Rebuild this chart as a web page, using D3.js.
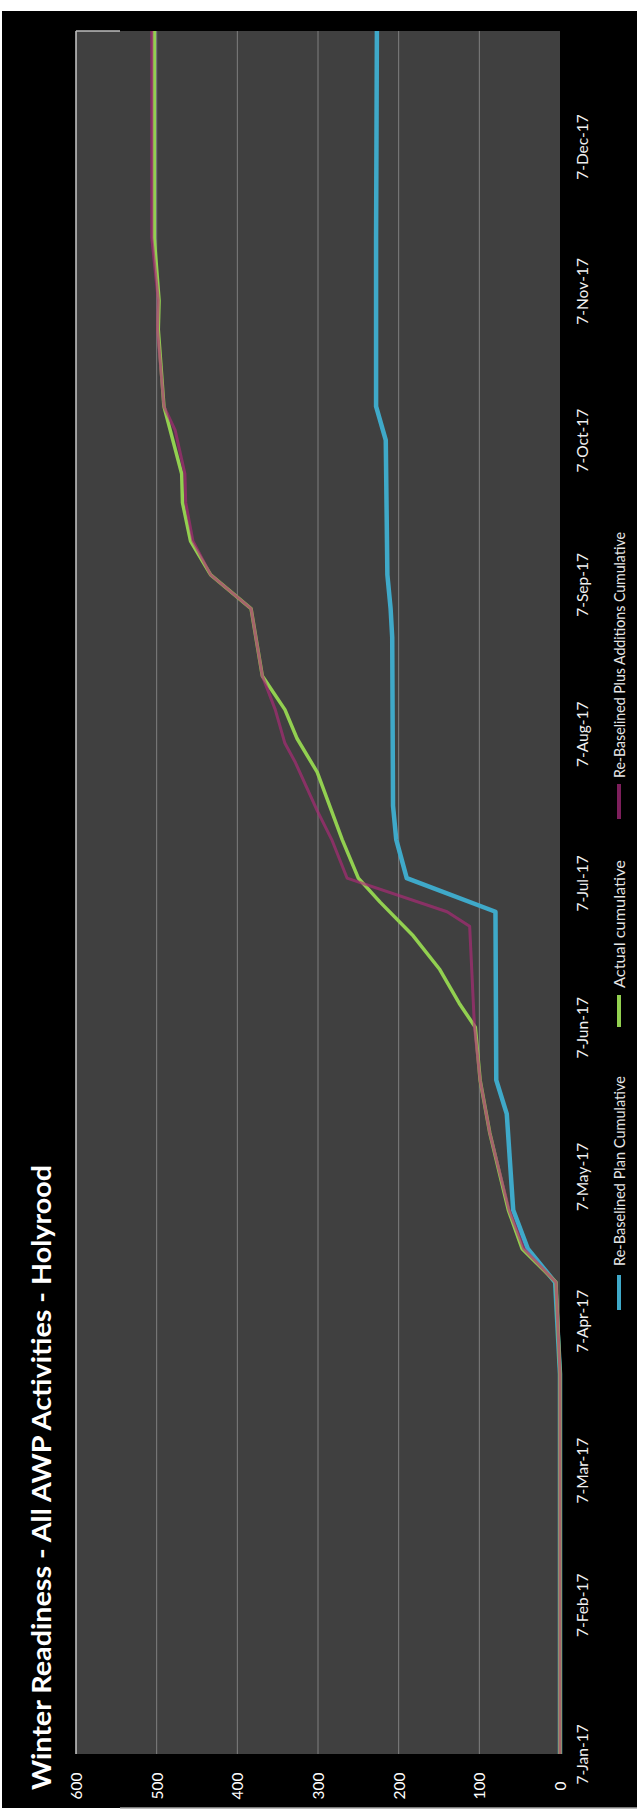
<!DOCTYPE html>
<html><head><meta charset="utf-8">
<script src="https://cdn.jsdelivr.net/npm/d3@7"></script>
<style>
html,body{margin:0;padding:0;background:#fff;}
svg{display:block;}
text{font-family:Lato,"Open Sans","Noto Sans",sans-serif;}
</style>
</head><body>
<svg id="chart" width="637" height="1811"></svg>
<script>
// ---------- data ----------
const chartTitle = "Winter Readiness - All AWP Activities - Holyrood";
const valueTicks = [0, 100, 200, 300, 400, 500, 600];
const dateTicks = ["2017-01-07","2017-02-07","2017-03-07","2017-04-07","2017-05-07","2017-06-07",
                   "2017-07-07","2017-08-07","2017-09-07","2017-10-07","2017-11-07","2017-12-07"];
const seriesNames = ["Re-Baselined Plan Cumulative", "Actual cumulative", "Re-Baselined Plus Additions Cumulative"];

const planDates  = ["2017-01-07","2017-03-27","2017-04-15","2017-04-22","2017-04-30","2017-05-20","2017-05-27",
                    "2017-07-01","2017-07-08","2017-07-16","2017-07-23","2017-08-27","2017-09-02","2017-09-09",
                    "2017-10-07","2017-10-14","2017-11-18","2017-12-31"];
const planValues = [0,0,6,40,58,66,79,80,190,203,207,208,210,214,216,228,228,227];

const actualDates  = ["2017-01-07","2017-03-27","2017-04-15","2017-04-22","2017-04-30","2017-05-16","2017-05-27",
                      "2017-06-07","2017-06-12","2017-06-19","2017-06-26","2017-07-03","2017-07-08","2017-07-16",
                      "2017-07-30","2017-08-06","2017-08-12","2017-08-19","2017-08-26","2017-09-02","2017-09-09",
                      "2017-09-16","2017-09-24","2017-09-30","2017-10-14","2017-10-30","2017-11-05","2017-11-18","2017-12-31"];
const actualValues = [0,0,5,47,64,87,99,105,125,149,182,223,250,270,301,326,341,369,376,383,433,458,468,469,491,498,497,503,503];

const plusDates  = ["2017-01-07","2017-03-27","2017-04-15","2017-04-22","2017-04-30","2017-05-16","2017-05-27",
                    "2017-06-07","2017-06-28","2017-07-01","2017-07-08","2017-07-16","2017-07-22","2017-08-01",
                    "2017-08-05","2017-08-12","2017-08-19","2017-08-26","2017-09-02","2017-09-09","2017-09-16",
                    "2017-09-24","2017-09-30","2017-10-09","2017-10-14","2017-10-30","2017-11-05","2017-11-18","2017-12-31"];
const plusValues = [0,0,5,45,63,87,99,106,112,140,264,283,301,328,341,353,369,376,383,433,455,464,465,477,491,499,498,506,506];

// ---------- setup ----------
const parse = d3.timeParse("%Y-%m-%d");
const svg = d3.select("#chart");
const W = 637, H = 1811;
const plot = {left: 76, right: 560, top: 31, bottom: 1754};

const x = d3.scaleLinear().domain([0, 600]).range([plot.right, plot.left]);
const y = d3.scaleTime().domain([parse("2017-01-07"), parse("2017-12-31")]).range([plot.bottom, plot.top]);

svg.append("rect").attr("width", W).attr("height", H).attr("fill", "#ffffff");
svg.append("rect").attr("x", 2).attr("y", 11).attr("width", W - 2).attr("height", 1797).attr("fill", "#000000");
svg.append("rect").attr("x", plot.left).attr("y", plot.top)
   .attr("width", plot.right - plot.left).attr("height", plot.bottom - plot.top).attr("fill", "#404040");

// gridlines
svg.append("g").selectAll("line").data(valueTicks.filter(v => v > 0 && v < 600)).join("line")
   .attr("x1", d => x(d)).attr("x2", d => x(d)).attr("y1", plot.top).attr("y2", plot.bottom)
   .attr("stroke", "#7f7f7f").attr("stroke-width", 1);
// axis edge lines
svg.append("line").attr("x1", x(600)).attr("x2", x(600)).attr("y1", plot.top).attr("y2", plot.bottom)
   .attr("stroke", "#c8c8c8").attr("stroke-width", 1.5);
svg.append("line").attr("x1", x(600)).attr("x2", 120).attr("y1", plot.top).attr("y2", plot.top)
   .attr("stroke", "#bdbdbd").attr("stroke-width", 1.5);
svg.append("line").attr("x1", 120).attr("x2", W).attr("y1", 1808).attr("y2", 1808)
   .attr("stroke", "#a6a6a6").attr("stroke-width", 1.5);

// value axis (rotated labels)
const vAxis = svg.append("g").attr("transform", `translate(0,1786)`)
   .call(d3.axisBottom(x).tickValues(valueTicks).tickSize(0).tickFormat(d3.format("d")));
vAxis.select(".domain").remove();
vAxis.selectAll(".tick text").attr("transform", "rotate(-90)").attr("x", 0).attr("y", 0)
   .attr("dy", "0.36em").attr("text-anchor", "middle")
   .attr("fill", "#ffffff").style("font-size", "15.5px");

// date axis (rotated labels)
const dAxis = svg.append("g").attr("transform", `translate(582,0)`)
   .call(d3.axisRight(y).tickValues(dateTicks.map(parse)).tickSize(0).tickFormat(d3.timeFormat("%-d-%b-%y")));
dAxis.select(".domain").remove();
dAxis.selectAll(".tick text").attr("transform", "rotate(-90)").attr("x", 0).attr("y", 0)
   .attr("dy", "0.36em").attr("text-anchor", "middle")
   .attr("fill", "#f0f0f0").style("font-size", "15.5px");

// lines
const line = d3.line().x(d => x(d.v)).y(d => y(d.d));
function series(dates, values) { return dates.map((d, i) => ({d: parse(d), v: values[i]})); }

svg.append("path").datum(series(planDates, planValues)).attr("d", line)
   .attr("fill", "none").attr("stroke", "#3fa9c9").attr("stroke-width", 4.5).attr("stroke-linejoin", "round");
svg.append("path").datum(series(actualDates, actualValues)).attr("d", line)
   .attr("fill", "none").attr("stroke", "#92d050").attr("stroke-width", 3.5).attr("stroke-linejoin", "round");
svg.append("path").datum(series(plusDates, plusValues)).attr("d", line)
   .attr("fill", "none").attr("stroke", "#b02a7a").attr("stroke-opacity", 0.65).attr("stroke-width", 3).attr("stroke-linejoin", "round");

// title
svg.append("text").attr("transform", "translate(51,1790) rotate(-90)")
   .attr("fill", "#ffffff").style("font-size", "27px").style("font-weight", "bold")
   .attr("textLength", 625).attr("lengthAdjust", "spacingAndGlyphs")
   .text(chartTitle);

// legend
const legendColors = ["#3fa9c9", "#92d050", "#7d1f5c"];
const legendWidths = [4, 4, 4];
const legendSw = [[1275, 1310], [995, 1027], [784, 819]];
const legendText = [[1266, 190], [988, 128], [778, 246]];
const lg = svg.append("g");
seriesNames.forEach((name, i) => {
  lg.append("line").attr("x1", 619).attr("x2", 619).attr("y1", legendSw[i][0]).attr("y2", legendSw[i][1])
    .attr("stroke", legendColors[i]).attr("stroke-width", legendWidths[i]);
  lg.append("text").attr("transform", `translate(620,${legendText[i][0]}) rotate(-90)`)
    .attr("dy", "0.36em").attr("fill", "#e6e6e6").style("font-size", "15px")
    .attr("textLength", legendText[i][1]).attr("lengthAdjust", "spacingAndGlyphs")
    .text(name);
});
</script>
</body></html>
